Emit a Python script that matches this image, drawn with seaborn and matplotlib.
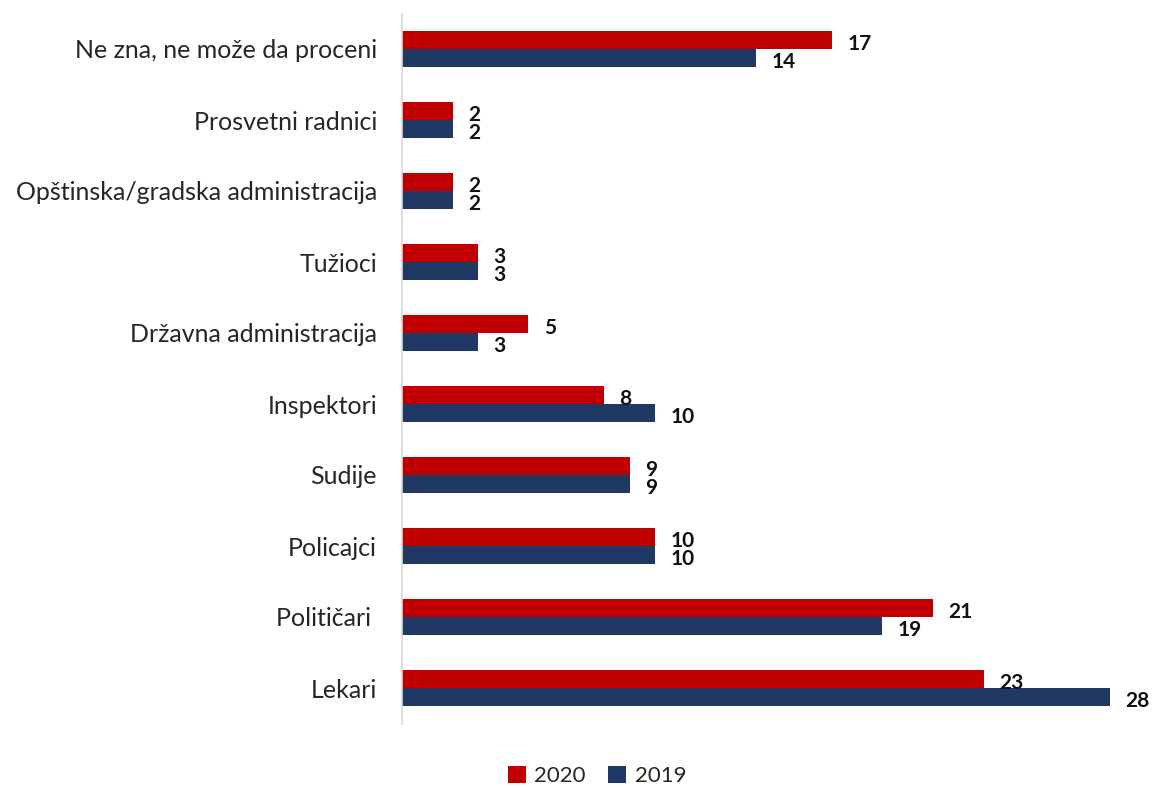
import pandas as pd
import numpy as np
import matplotlib.pyplot as plt
import seaborn as sns

# ================================
# 데이터
# ================================
kategorije = [
    'Ne zna, ne može da proceni',
    'Prosvetni radnici',
    'Opštinska/gradska administracija',
    'Tužioci',
    'Državna administracija',
    'Inspektori',
    'Sudije',
    'Policajci',
    'Političari ',
    'Lekari',
]
vrednosti_2020 = [17, 2, 2, 3, 5, 8, 9, 10, 21, 23]
vrednosti_2019 = [14, 2, 2, 3, 3, 10, 9, 10, 19, 28]
godine = ['2020', '2019']
boje = ['#C00000', '#203864']

df = pd.DataFrame({
    'Kategorija': kategorije * 2,
    'Godina': ['2020'] * len(kategorije) + ['2019'] * len(kategorije),
    'Vrednost': vrednosti_2020 + vrednosti_2019,
})

# ================================
# 스타일
# ================================
sns.set_style('white')
plt.rcParams['font.family'] = ['Lato', 'DejaVu Sans']

fig = plt.figure(figsize=(11.57, 7.88), dpi=100)
ax = fig.add_axes([402 / 1157, 1 - 723.5 / 788, (1110 - 402) / 1157, (723.5 - 13.5) / 788])

sns.barplot(
    data=df, y='Kategorija', x='Vrednost', hue='Godina',
    order=kategorije, hue_order=godine, palette=boje,
    width=0.5, ax=ax, saturation=1, edgecolor='none', legend=True
)

ax.set_xlim(0, 28)
ax.set_xlabel('')
ax.set_ylabel('')
ax.set_xticks([])
ax.tick_params(axis='y', length=0, pad=18, labelsize=18)
for s in ['top', 'right', 'bottom']:
    ax.spines[s].set_visible(False)
ax.spines['left'].set_color('#d9d9d9')
ax.spines['left'].set_linewidth(1.2)

# 값 라벨
for cont in ax.containers:
    for p in cont:
        w = p.get_width()
        ax.annotate(
            f'{w:.0f}',
            xy=(w, p.get_y() + p.get_height() / 2),
            xytext=(11, -3), textcoords='offset points',
            ha='left', va='center', fontsize=15, fontweight='bold',
            color='#111111', annotation_clip=False
        )

# 범례
handles, labels = ax.get_legend_handles_labels()
ax.legend_.remove()
fig.legend(
    handles, labels, loc='center', bbox_to_anchor=(597 / 1157, 1 - 776 / 788),
    ncol=2, frameon=False, fontsize=16, handlelength=0.8, handleheight=0.8,
    handletextpad=0.4, columnspacing=1.0
)

plt.savefig('out.png', dpi=100)
